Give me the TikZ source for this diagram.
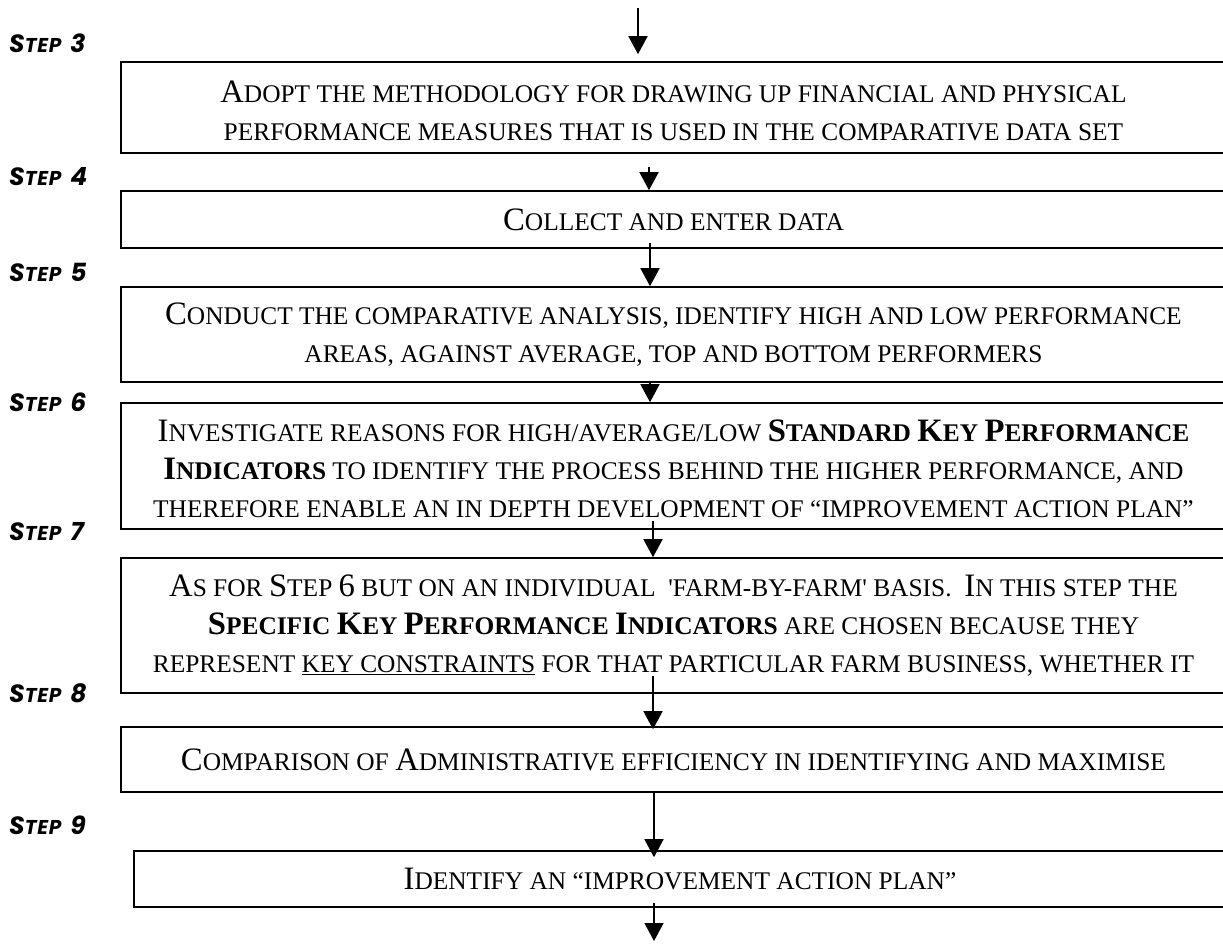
\documentclass[tikz,border=0pt]{standalone}
\usepackage{fontspec}
\usetikzlibrary{arrows.meta}
\newfontfamily\boxfont{Liberation Serif}
\newfontfamily\stepfont{Poppins}[LetterSpace=4]
\newcommand\BC[1]{{\fontsize{32.7}{38}\selectfont #1}}
\newcommand\SBig[1]{{\fontsize{25}{26}\selectfont #1}}
\tikzset{
  stepbox/.style={draw, line width=1.6pt, anchor=center, inner sep=0pt, align=center,
    font=\boxfont\fontsize{25.4}{38}\selectfont},
  steplabel/.style={anchor=west, inner sep=0pt, font=\stepfont\bfseries\itshape\fontsize{20}{22}\selectfont},
  arr/.style={line width=1.5pt, -{Triangle[width=19pt,length=18pt]}}
}
\begin{document}
\begin{tikzpicture}[x=1pt,y=-1pt]
\useasboundingbox (0,0) rectangle (1223,943);
\clip (0,0) rectangle (1223,943);

% boxes (right edges run off the page)
\node[stepbox, minimum width=1105pt, minimum height=91pt] (b3) at (673.5,107.5)
  {\rule{0pt}{29pt}\BC{A}DOPT THE METHODOLOGY FOR DRAWING UP FINANCIAL AND PHYSICAL\\PERFORMANCE MEASURES THAT IS USED IN THE COMPARATIVE DATA SET};
\node[stepbox, minimum width=1105pt, minimum height=57pt] (b4) at (673.5,219.5)
  {\BC{C}OLLECT AND ENTER DATA};
\node[stepbox, minimum width=1105pt, minimum height=95pt] (b5) at (673.5,334.5)
  {\BC{C}ONDUCT THE COMPARATIVE ANALYSIS, IDENTIFY HIGH AND LOW PERFORMANCE\\AREAS, AGAINST AVERAGE, TOP AND BOTTOM PERFORMERS};
\node[stepbox, minimum width=1105pt, minimum height=126pt] (b6) at (673.5,466)
  {\rule{0pt}{28pt}\BC{I}NVESTIGATE REASONS FOR HIGH/AVERAGE/LOW \textbf{\BC{S}TANDARD \BC{K}EY \BC{P}ERFORMANCE}\\
   \textbf{\BC{I}NDICATORS} TO IDENTIFY THE PROCESS BEHIND THE HIGHER PERFORMANCE, AND\\
   THEREFORE ENABLE AN IN DEPTH DEVELOPMENT OF “IMPROVEMENT ACTION PLAN”};
\node[stepbox, minimum width=1105pt, minimum height=135pt] (b7) at (673.5,625.5)
  {\BC{A}S FOR \BC{S}TEP \BC{6} BUT ON AN INDIVIDUAL\ \ 'FARM-BY-FARM' BASIS.\ \ \BC{I}N THIS STEP THE\\
   \textbf{\BC{S}PECIFIC \BC{K}EY \BC{P}ERFORMANCE \BC{I}NDICATORS} ARE CHOSEN BECAUSE THEY\\
   REPRESENT \underline{KEY CONSTRAINTS} FOR THAT PARTICULAR FARM BUSINESS, WHETHER IT};
\node[stepbox, minimum width=1105pt, minimum height=65pt] (b8) at (673.5,759.5)
  {\BC{C}OMPARISON OF \BC{A}DMINISTRATIVE EFFICIENCY IN IDENTIFYING AND MAXIMISE};
\node[stepbox, minimum width=1092pt, minimum height=56pt] (b9) at (680,879)
  {\BC{I}DENTIFY AN “IMPROVEMENT ACTION PLAN”};

% step labels
\node[steplabel] (s3) at (9,43)  {\SBig{S}TEP\hspace{9pt}\SBig{3}};
\node[steplabel] (s4) at (9,177) {\SBig{S}TEP\hspace{9pt}\SBig{4}};
\node[steplabel] (s5) at (9,272) {\SBig{S}TEP\hspace{9pt}\SBig{5}};
\node[steplabel] (s6) at (9,402) {\SBig{S}TEP\hspace{9pt}\SBig{6}};
\node[steplabel] (s7) at (9,532) {\SBig{S}TEP\hspace{9pt}\SBig{7}};
\node[steplabel] (s8) at (9,693) {\SBig{S}TEP\hspace{9pt}\SBig{8}};
\node[steplabel] (s9) at (9,825) {\SBig{S}TEP\hspace{9pt}\SBig{9}};

% connectors
\coordinate (in0) at (638,8);
\coordinate (out9) at (654,941);
\draw[arr] (in0) -- ([xshift=-35.5pt,yshift=7pt]b3.north);
\draw[arr] ([xshift=-24.5pt,yshift=-13pt]b3.south) -- ([xshift=-24.5pt]b4.north);
\draw[arr] ([xshift=-23.5pt,yshift=6pt]b4.south) -- ([xshift=-23.5pt]b5.north);
\draw[arr] ([xshift=-23.5pt]b5.south) -- ([xshift=-23.5pt]b6.north);
\draw[arr] ([xshift=-20.5pt,yshift=9pt]b6.south) -- ([xshift=-20.5pt]b7.north);
\draw[arr] ([xshift=-20.5pt,yshift=18pt]b7.south) -- ([xshift=-20.5pt,yshift=-3pt]b8.north);
\draw[arr] ([xshift=-19.5pt]b8.south) -- ([xshift=-26pt,yshift=-7pt]b9.north);
\draw[arr] ([xshift=-26pt,yshift=5pt]b9.south) -- (out9);
\end{tikzpicture}
\end{document}
